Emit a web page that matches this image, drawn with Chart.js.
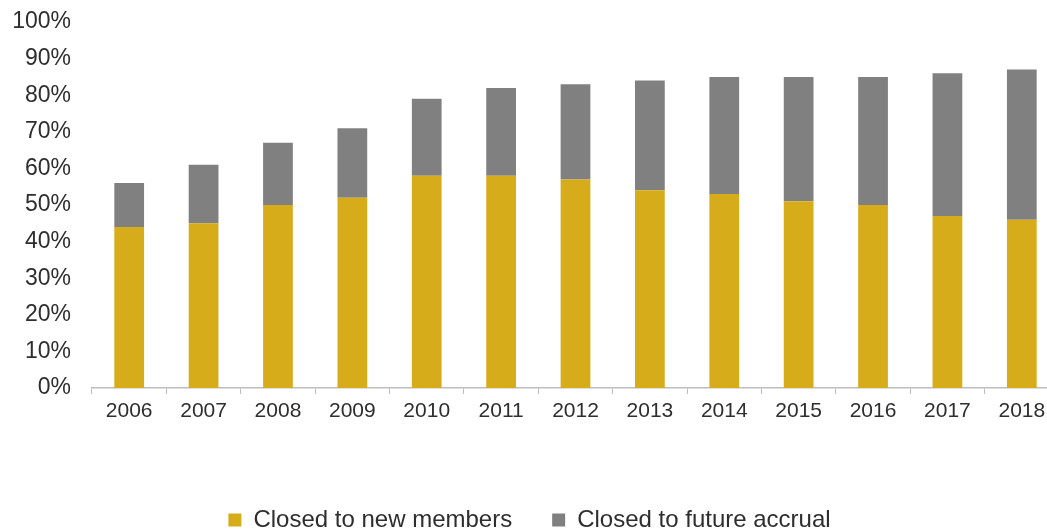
<!DOCTYPE html>
<html>
<head>
<meta charset="utf-8">
<script src="https://cdn.jsdelivr.net/npm/chart.js@4"></script>
<style>
    html, body {
        margin: 0;
        padding: 0;
        background: #ffffff;
        overflow: hidden;
    }
    #wrap {
        width: 1060px;
        height: 542px;
    }
</style>
</head>
<body>
<div id="wrap"><canvas id="chart" width="1060" height="542"></canvas></div>
<script>
const years = ['2006', '2007', '2008', '2009', '2010', '2011', '2012', '2013', '2014', '2015', '2016', '2017', '2018'];
const closedToNewMembers = [44, 45, 50, 52, 58, 58, 57, 54, 53, 51, 50, 47, 46];
const closedToFutureAccrual = [12, 16, 17, 19, 21, 24, 26, 30, 32, 34, 35, 39, 41];

const textColor = '#2e2e2e';
const fontFamily = '"Liberation Sans", Arial, sans-serif';

new Chart(document.getElementById('chart'), {
    type: 'bar',
    data: {
        labels: years,
        datasets: [
            {
                label: 'Closed to new members',
                data: closedToNewMembers,
                backgroundColor: '#D7AC1B',
                barPercentage: 0.4,
                categoryPercentage: 1.0
            },
            {
                label: 'Closed to future accrual',
                data: closedToFutureAccrual,
                backgroundColor: '#808080',
                barPercentage: 0.4,
                categoryPercentage: 1.0
            }
        ]
    },
    options: {
        responsive: false,
        animation: false,
        layout: {
            padding: { top: 22, right: 1, left: 0, bottom: 0 }
        },
        plugins: {
            legend: {
                position: 'bottom',
                labels: {
                    color: textColor,
                    font: { family: fontFamily, size: 24 },
                    boxWidth: 13,
                    boxHeight: 13,
                    padding: 40
                }
            },
            tooltip: { enabled: false }
        },
        scales: {
            x: {
                stacked: true,
                afterFit: (scale) => { scale.height = 80; },
                grid: {
                    display: true,
                    drawOnChartArea: false,
                    drawTicks: true,
                    tickLength: 6,
                    color: '#BDBDBD',
                    offset: true
                },
                border: { display: true, color: '#BDBDBD', width: 1.5 },
                ticks: {
                    color: textColor,
                    font: { family: fontFamily, size: 21 },
                    padding: 5,
                    maxRotation: 0
                }
            },
            y: {
                stacked: true,
                min: 0,
                max: 100,
                afterFit: (scale) => { scale.width = 92; },
                // hidden tick marks keep the labels clear of the plot edge
                grid: { display: false, drawTicks: true, tickLength: 21 },
                border: { display: false },
                ticks: {
                    stepSize: 10,
                    color: textColor,
                    font: { family: fontFamily, size: 23 },
                    padding: 0,
                    callback: (value) => value + '%'
                }
            }
        }
    }
});
</script>
</body>
</html>
